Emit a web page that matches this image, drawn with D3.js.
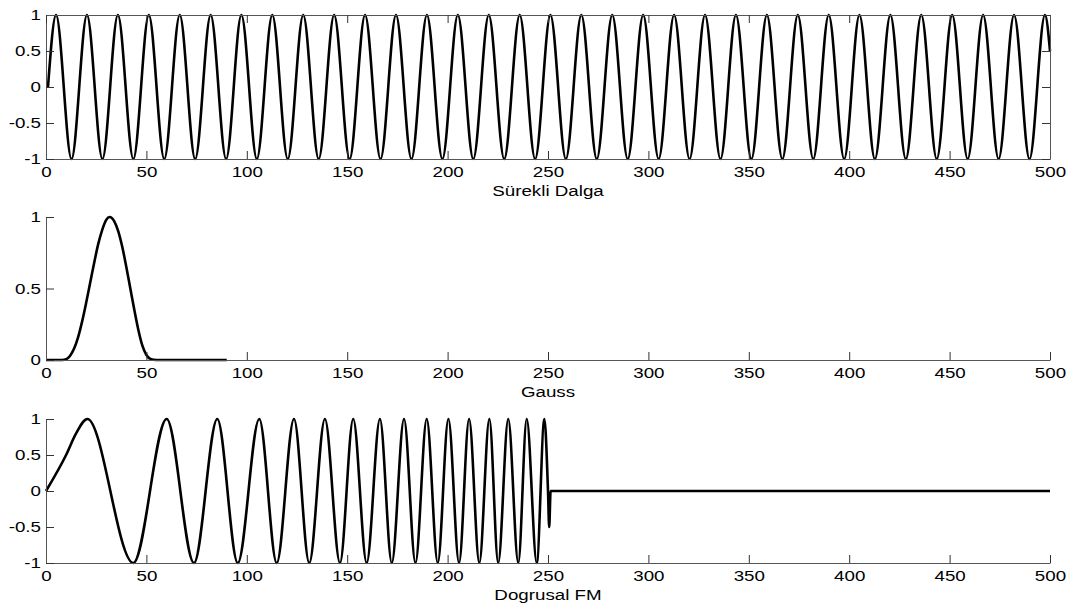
<!DOCTYPE html>
<html>
<head>
<meta charset="utf-8">
<script src="https://cdn.jsdelivr.net/npm/d3@7"></script>
<style>
  body { margin: 0; background: #fff; }
  text { font-family: "Liberation Sans", Arial, sans-serif; fill: #000; }
</style>
</head>
<body>
<svg id="chart" width="1079" height="607"></svg>
<script>
// tick labels
const xTicks = [0, 50, 100, 150, 200, 250, 300, 350, 400, 450, 500]
const waveTicks = [-1, -0.5, 0, 0.5, 1]
const gaussTicks = [0, 0.5, 1]

// Sürekli Dalga - extrema
const sineT = [1, 5.0, 12.7, 20.4, 28.1, 35.8, 43.5, 51.2, 58.9, 66.6, 74.3, 82.0, 89.7, 97.3, 105.0,
  112.7, 120.4, 128.1, 135.8, 143.5, 151.2, 158.9, 166.6, 174.3, 182.0, 189.7, 197.4, 205.1, 212.8,
  220.5, 228.2, 235.9, 243.6, 251.2, 258.9, 266.6, 274.3, 282.0, 289.7, 297.4, 305.1, 312.8, 320.5,
  328.2, 335.9, 343.6, 351.3, 359.0, 366.7, 374.4, 382.1, 389.8, 397.5, 405.1, 412.8, 420.5, 428.2,
  435.9, 443.6, 451.3, 459.0, 466.7, 474.4, 482.1, 489.8, 497.5, 500]
const sineV = [0, 1, -1, 1, -1, 1, -1, 1, -1, 1, -1, 1, -1, 1, -1,
  1, -1, 1, -1, 1, -1, 1, -1, 1, -1, 1, -1, 1, -1,
  1, -1, 1, -1, 1, -1, 1, -1, 1, -1, 1, -1, 1, -1,
  1, -1, 1, -1, 1, -1, 1, -1, 1, -1, 1, -1, 1, -1,
  1, -1, 1, -1, 1, -1, 1, -1, 1, 0.5]

// Gauss
const gaussT = [0, 8, 10, 12, 14, 16, 18, 20, 22, 24, 26, 28, 30, 31.7, 34, 36, 38, 40, 42, 44, 46, 48, 50, 52, 55, 90]
const gaussV = [0, 0, 0.005, 0.03, 0.08, 0.16, 0.27, 0.40, 0.54, 0.68, 0.81, 0.91, 0.98, 1, 0.97, 0.90, 0.79, 0.65, 0.50, 0.35, 0.21, 0.10, 0.035, 0.008, 0, 0]

// Dogrusal FM
const fmT = [0, 10, 15, 20.6, 43.5, 60.1, 73.7, 85.3, 95.5, 106.2, 114.9, 123.5, 131.1, 138.9, 146.4, 153.0,
  159.7, 166.3, 172.2, 178.3, 184.0, 189.6, 195.1, 200.4, 205.7, 210.7, 215.8, 220.8, 225.2, 230.2,
  235.2, 239.4, 244.4, 248.2, 250, 250.6, 251.3, 500]
const fmV = [0, 0.5, 0.8, 1, -1, 1, -1, 1, -1, 1, -1, 1, -1, 1, -1, 1,
  -1, 1, -1, 1, -1, 1, -1, 1, -1, 1, -1, 1, -1, 1,
  -1, 1, -1, 1, 0, -0.5, 0, 0]

const zip = (t, v) => t.map((d, i) => [d, v[i]])

const svg = d3.select("#chart")
const x = d3.scaleLinear().domain([0, 500]).range([46, 1050])
const stretch = 1.25   // the original figure is stretched sideways

const panels = [
  { data: zip(sineT, sineV), top: 15, bottom: 159, domain: [-1, 1], ticks: waveTicks, title: "Sürekli Dalga", box: true },
  { data: zip(gaussT, gaussV), top: 217, bottom: 360, domain: [0, 1], ticks: gaussTicks, title: "Gauss", box: false },
  { data: zip(fmT, fmV), top: 419, bottom: 563, domain: [-1, 1], ticks: waveTicks, title: "Dogrusal FM", box: false }
]

panels.forEach(p => {
  var y = d3.scaleLinear().domain(p.domain).range([p.bottom, p.top])
  var g = svg.append("g")

  var line = d3.line()
    .x(d => x(d[0]))
    .y(d => y(d[1]))
    .curve(d3.curveMonotoneX)

  g.append("path")
    .datum(p.data)
    .attr("fill", "none")
    .attr("stroke", "#000")
    .attr("stroke-width", 2.6)
    .attr("stroke-linejoin", "round")
    .attr("d", line)

  var fmt = d => String(d)

  g.append("g")
    .attr("transform", "translate(0," + p.bottom + ")")
    .call(d3.axisBottom(x).tickValues(xTicks).tickFormat(fmt).tickSizeInner(-8).tickSizeOuter(0).tickPadding(7))
  g.append("g")
    .attr("transform", "translate(" + x(0) + ",0)")
    .call(d3.axisLeft(y).tickValues(p.ticks).tickFormat(fmt).tickSizeInner(-8).tickSizeOuter(0).tickPadding(4))

  if (p.box) {
    g.append("g")
      .attr("transform", "translate(0," + p.top + ")")
      .call(d3.axisTop(x).tickValues(xTicks).tickFormat("").tickSizeInner(-8).tickSizeOuter(0))
    g.append("g")
      .attr("transform", "translate(" + x(500) + ",0)")
      .call(d3.axisRight(y).tickValues(p.ticks).tickFormat("").tickSizeInner(-8).tickSizeOuter(0))
  }

  g.selectAll(".domain").attr("stroke", "#555")
  g.selectAll(".tick line").attr("stroke", "#333")
  g.selectAll(".tick text")
    .attr("font-size", 15)
    .attr("fill", "#000")
    .attr("transform", "scale(" + stretch + ",1)")

  g.append("text")
    .attr("transform", "translate(" + ((x(0) + x(500)) / 2) + "," + (p.bottom + 37) + ") scale(" + stretch + ",1)")
    .attr("text-anchor", "middle")
    .attr("font-size", 15)
    .text(p.title)
})
</script>
</body>
</html>
